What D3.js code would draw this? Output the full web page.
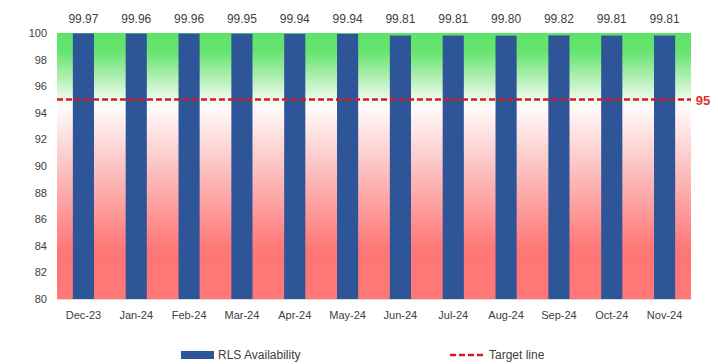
<!DOCTYPE html>
<html lang="en">
<head>
<meta charset="utf-8" />
<title>RLS Availability</title>
<script src="https://d3js.org/d3.v7.min.js"></script>
<style>
  body { margin: 0; background: #fff; }
  svg text { font-family: "Liberation Sans", Arial, sans-serif; }
</style>
</head>
<body>
<div id="myDiv"></div>
<script>
// chart data
var months = ["Dec-23","Jan-24","Feb-24","Mar-24","Apr-24","May-24","Jun-24","Jul-24","Aug-24","Sep-24","Oct-24","Nov-24"];
var availability = [99.97,99.96,99.96,99.95,99.94,99.94,99.81,99.81,99.80,99.82,99.81,99.81];
var target = 95;
var yTicks = [80,82,84,86,88,90,92,94,96,98,100];

var width = 718, height = 364;
// plot area edges (note: "top" is reserved on window, so use plot* names)
var plotLeft = 57, plotRight = 691, plotTop = 33, plotBottom = 299;

var svg = d3.select("#myDiv").append("svg")
    .attr("width", width)
    .attr("height", height);

// background gradient green -> white -> red
var grad = svg.append("defs").append("linearGradient")
    .attr("id", "bg").attr("x1", 0).attr("y1", 0).attr("x2", 0).attr("y2", 1);
[[0,"#5ee36a"],[0.07,"#66e46f"],[0.2,"#c8f3c9"],[0.26,"#f7fcf7"],[0.29,"#fff8f8"],[0.5,"#fcc4c4"],[0.82,"#ff7676"],[1,"#ff7777"]]
  .forEach(function(s){
    grad.append("stop").attr("offset", s[0]).attr("stop-color", s[1]);
  });

var xScale = d3.scaleBand().domain(months).range([plotLeft, plotRight]).paddingInner(0.6).paddingOuter(0.3);
var yScale = d3.scaleLinear().domain([80, 100]).range([plotBottom, plotTop]);

svg.append("rect")
    .attr("x", plotLeft).attr("y", plotTop)
    .attr("width", plotRight - plotLeft).attr("height", plotBottom - plotTop)
    .attr("fill", "url(#bg)");

// bars
svg.selectAll("rect.bar")
    .data(availability)
    .enter().append("rect")
    .attr("class", "bar")
    .attr("x", function(d, i){ return xScale(months[i]); })
    .attr("y", function(d){ return yScale(d); })
    .attr("width", xScale.bandwidth())
    .attr("height", function(d){ return plotBottom - yScale(d); })
    .attr("fill", "#2e5597");

// value labels
svg.selectAll("text.val")
    .data(availability)
    .enter().append("text")
    .attr("class", "val")
    .attr("x", function(d, i){ return xScale(months[i]) + xScale.bandwidth() / 2; })
    .attr("y", 23)
    .attr("text-anchor", "middle")
    .attr("font-size", 12)
    .attr("fill", "#404040")
    .text(function(d){ return d.toFixed(2); });

// target line
svg.append("line")
    .attr("x1", plotLeft).attr("x2", plotRight)
    .attr("y1", yScale(target)).attr("y2", yScale(target))
    .attr("stroke", "#d91a1a").attr("stroke-width", 2.5)
    .attr("stroke-dasharray", "6,3");

svg.append("text")
    .attr("x", 703).attr("y", yScale(target) + 5)
    .attr("text-anchor", "middle")
    .attr("font-size", 13).attr("font-weight", "bold")
    .attr("fill", "#e03030")
    .text(target);

// y axis
var yAxis = d3.axisLeft(yScale).tickValues(yTicks).tickSize(0).tickPadding(10);
svg.append("g")
    .attr("transform", "translate(" + plotLeft + ",0)")
    .call(yAxis)
    .call(function(g){ g.select(".domain").remove(); })
    .selectAll("text")
    .attr("font-size", 11)
    .attr("fill", "#404040");

// x axis
var xAxis = d3.axisBottom(xScale).tickSize(0).tickPadding(12);
svg.append("g")
    .attr("transform", "translate(0," + plotBottom + ")")
    .call(xAxis)
    .call(function(g){ g.select(".domain").attr("stroke", "#d9d9d9"); })
    .selectAll("text")
    .attr("font-size", 11)
    .attr("fill", "#404040");

// legend
svg.append("rect")
    .attr("x", 181).attr("y", 351)
    .attr("width", 33).attr("height", 8)
    .attr("fill", "#2e5597");
svg.append("text")
    .attr("x", 218).attr("y", 359)
    .attr("font-size", 12).attr("fill", "#404040")
    .text("RLS Availability");

svg.append("line")
    .attr("x1", 450).attr("x2", 486)
    .attr("y1", 355).attr("y2", 355)
    .attr("stroke", "#d91a1a").attr("stroke-width", 2.5)
    .attr("stroke-dasharray", "6,3");
svg.append("text")
    .attr("x", 489).attr("y", 359)
    .attr("font-size", 12).attr("fill", "#404040")
    .text("Target line");
</script>
</body>
</html>
